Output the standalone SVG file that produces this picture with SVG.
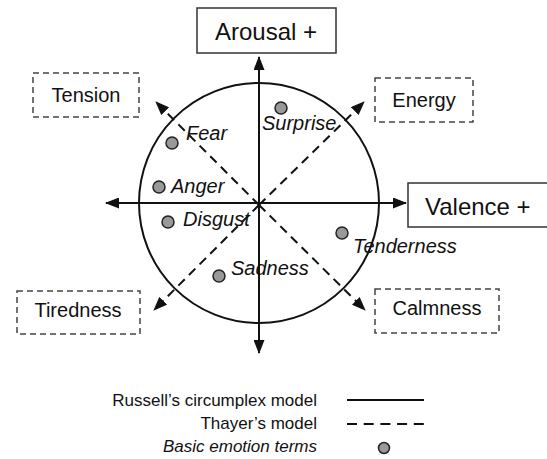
<svg xmlns="http://www.w3.org/2000/svg" width="547" height="459" viewBox="0 0 547 459">
<defs>
<marker id="ah" viewBox="0 0 14 11" refX="13" refY="5.5" markerWidth="14" markerHeight="11" markerUnits="userSpaceOnUse" orient="auto">
<path d="M0,0 L14,5.5 L0,11 Z" fill="#111"/>
</marker>
<style>
.box{fill:#fff;stroke:#333;stroke-width:1.5}
.dbox{fill:#fff;stroke:#444;stroke-width:1.5;stroke-dasharray:6,4}
.lbl{font-family:"Liberation Sans",Arial,sans-serif;fill:#111}
.big{font-size:24px;text-anchor:middle}
.mid{font-size:20px;text-anchor:middle}
.emo{font-family:"Liberation Sans",Arial,sans-serif;font-size:20px;font-style:italic;fill:#111}
.leg{font-family:"Liberation Sans",Arial,sans-serif;font-size:17px;fill:#111;text-anchor:end}
.ax{stroke:#111;stroke-width:2;fill:none}
.dash{stroke:#111;stroke-width:2;fill:none;stroke-dasharray:9,6}
.dot{fill:#999;stroke:#222;stroke-width:1.5}
</style>
</defs>
<g id="connectors">
<circle cx="259" cy="203" r="120" class="ax"/>
<line x1="259" y1="203" x2="259" y2="57" class="ax" marker-end="url(#ah)"/>
<line x1="259" y1="203" x2="259" y2="353" class="ax" marker-end="url(#ah)"/>
<line x1="259" y1="203" x2="106" y2="203" class="ax" marker-end="url(#ah)"/>
<line x1="259" y1="203" x2="406" y2="203" class="ax" marker-end="url(#ah)"/>
<line x1="259" y1="205" x2="156" y2="102" class="dash" marker-end="url(#ah)"/>
<line x1="259" y1="205" x2="364" y2="102" class="dash" marker-end="url(#ah)"/>
<line x1="259" y1="205" x2="154" y2="310" class="dash" marker-end="url(#ah)"/>
<line x1="259" y1="205" x2="365" y2="310" class="dash" marker-end="url(#ah)"/>
</g>
<g id="arousal">
<rect x="197" y="8" width="139" height="45" class="box"/>
<text x="266" y="40" class="lbl big">Arousal +</text>
</g>
<g id="valence">
<rect x="408" y="183" width="145" height="44" class="box"/>
<text x="425" y="215" class="lbl" font-size="24">Valence +</text>
</g>
<g id="tension">
<rect x="33" y="73" width="106" height="44" class="dbox"/>
<text x="86" y="102" class="lbl mid">Tension</text>
</g>
<g id="energy">
<rect x="375" y="78" width="98" height="44" class="dbox"/>
<text x="424" y="107" class="lbl mid">Energy</text>
</g>
<g id="tiredness">
<rect x="17" y="291" width="123" height="43" class="dbox"/>
<text x="78" y="317" class="lbl mid">Tiredness</text>
</g>
<g id="calmness">
<rect x="375" y="289" width="124" height="44" class="dbox"/>
<text x="437" y="315" class="lbl mid">Calmness</text>
</g>
<g id="fear"><circle cx="172" cy="143" r="6" class="dot"/><text x="186" y="140" class="emo">Fear</text></g>
<g id="surprise"><circle cx="281" cy="108" r="6" class="dot"/><text x="262" y="130" class="emo">Surprise</text></g>
<g id="anger"><circle cx="159" cy="187" r="6" class="dot"/><text x="171" y="193" class="emo">Anger</text></g>
<g id="disgust"><circle cx="168" cy="222" r="6" class="dot"/><text x="183" y="226" class="emo">Disgust</text></g>
<g id="tenderness"><circle cx="342" cy="233" r="6" class="dot"/><text x="353" y="253" class="emo">Tenderness</text></g>
<g id="sadness"><circle cx="219" cy="276" r="6" class="dot"/><text x="231" y="275" class="emo">Sadness</text></g>
<g id="legend">
<text x="317" y="406" class="leg">Russell’s circumplex model</text>
<text x="317" y="429" class="leg">Thayer’s model</text>
<text x="317" y="452" class="leg" font-style="italic">Basic emotion terms</text>
<line x1="347" y1="400" x2="424" y2="400" class="ax" stroke-width="1.8"/>
<line x1="347" y1="424" x2="424" y2="424" class="ax" stroke-width="1.8" stroke-dasharray="10,6.7"/>
<circle cx="384" cy="448" r="5.5" class="dot"/>
</g>
</svg>
